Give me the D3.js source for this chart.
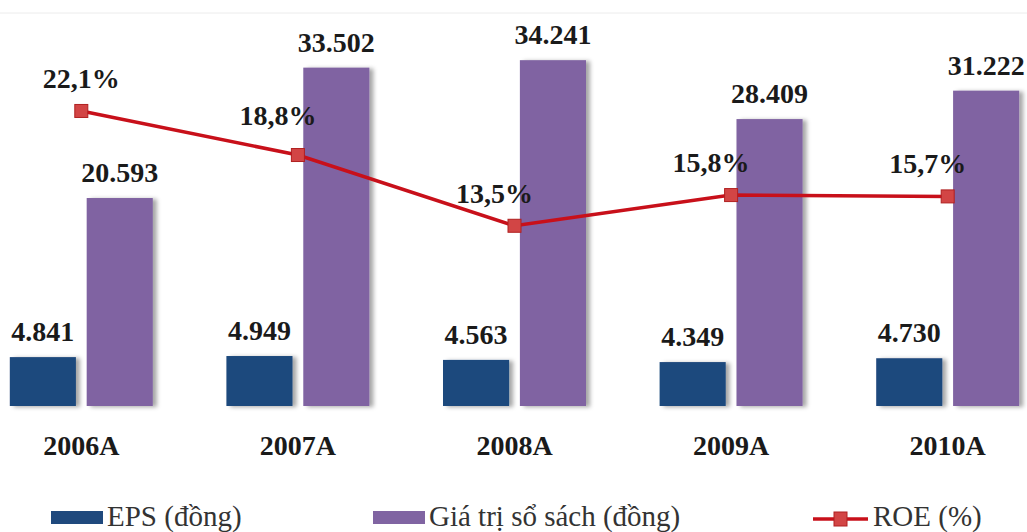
<!DOCTYPE html>
<html>
<head>
<meta charset="utf-8">
<script src="https://cdnjs.cloudflare.com/ajax/libs/d3/7.8.5/d3.min.js"></script>
<style>
    body { margin: 0; background: #fff; }
    text { font-family: "Liberation Serif", "DejaVu Serif", serif; }
</style>
</head>
<body>
<div id="chart"></div>
<script>
// data
const years = ["2006A", "2007A", "2008A", "2009A", "2010A"]
const eps = [4841, 4949, 4563, 4349, 4730]
const bookValue = [20593, 33502, 34241, 28409, 31222]
const roe = [22.1, 18.8, 13.5, 15.8, 15.7]
const seriesNames = ["EPS (đồng)", "Giá trị sổ sách (đồng)", "ROE (%)"]

const fmtNum = d3.formatLocale({ decimal: ",", thousands: ".", grouping: [3], currency: ["", ""] }).format(",")
const fmtPct = d => d.toFixed(1).replace(".", ",") + "%"

const w = 1027
const h = 532
const base = 406
const serif = "Liberation Serif, DejaVu Serif, serif"

const colors = ["#1f497d", "#8064a2", "#c00000"]

const svg = d3.select('#chart')
    .append('svg')
    .attr('width', w)
    .attr('height', h)
    .attr('font-family', serif)

// soft shadow on the bars
const defs = svg.append('defs')
const shadow = defs.append('filter')
    .attr('id', 'shadow')
    .attr('x', '-20%').attr('y', '-10%')
    .attr('width', '150%').attr('height', '130%')
shadow.append('feDropShadow')
    .attr('dx', 4).attr('dy', 1)
    .attr('stdDeviation', 2)
    .attr('flood-color', '#000')
    .attr('flood-opacity', 0.35)

// faint top border
svg.append('line')
    .attr('x1', 0).attr('x2', w)
    .attr('y1', 13).attr('y2', 13)
    .attr('stroke', '#ececec')

// scales
const x0 = d3.scaleBand()
    .domain(years)
    .range([-27, 1056])

const x1 = d3.scaleBand()
    .domain([0, 1])
    .range([-71.5, 71.5])
    .paddingInner(0.14)

const yBar = d3.scaleLinear()
    .domain([0, 40000])
    .range([base, 2])

const yRoe = d3.scaleLinear()
    .domain([0, 30])
    .range([base, base - 400.5])

const center = d => x0(d) + x0.bandwidth() / 2

// bars
const barData = []
years.forEach((y, i) => {
    barData.push({ year: y, s: 0, v: eps[i] })
    barData.push({ year: y, s: 1, v: bookValue[i] })
})

svg.append('g')
    .attr('filter', 'url(#shadow)')
    .selectAll('rect')
    .data(barData)
    .enter()
    .append('rect')
    .attr('x', d => center(d.year) + x1(d.s))
    .attr('y', d => yBar(d.v))
    .attr('width', x1.bandwidth())
    .attr('height', d => base - yBar(d.v))
    .attr('fill', d => colors[d.s])

svg.append('g')
    .selectAll('text')
    .data(barData)
    .enter()
    .append('text')
    .attr('x', d => center(d.year) + x1(d.s) + x1.bandwidth() / 2)
    .attr('y', d => yBar(d.v) - 16)
    .attr('text-anchor', 'middle')
    .attr('font-family', serif)
    .attr('font-size', 28)
    .attr('font-weight', 'bold')
    .attr('fill', '#1a1a1a')
    .text(d => fmtNum(d.v))

// ROE line
const line = d3.line()
    .x((d, i) => center(years[i]))
    .y(d => yRoe(d))

svg.append('path')
    .datum(roe)
    .attr('d', line)
    .attr('fill', 'none')
    .attr('stroke', "#c8101a")
    .attr('stroke-width', 3.5)

svg.append('g')
    .selectAll('rect')
    .data(roe)
    .enter()
    .append('rect')
    .attr('x', (d, i) => center(years[i]) - 6.5)
    .attr('y', d => yRoe(d) - 6.5)
    .attr('width', 13)
    .attr('height', 13)
    .attr('fill', '#d24545')
    .attr('stroke', '#b02020')
    .attr('stroke-width', 1)

svg.append('g')
    .selectAll('text')
    .data(roe)
    .enter()
    .append('text')
    .attr('x', (d, i) => center(years[i]) + (i === 0 ? 0 : -20))
    .attr('y', (d, i) => yRoe(d) - (i === 1 ? 30 : 23))
    .attr('text-anchor', 'middle')
    .attr('font-family', serif)
    .attr('font-size', 28)
    .attr('font-weight', 'bold')
    .attr('fill', '#1a1a1a')
    .text(d => fmtPct(d))

// category labels
const xAxis = d3.axisBottom(x0).tickSize(0).tickPadding(0)
const axisG = svg.append('g')
    .attr('transform', 'translate(0,' + base + ')')
    .call(xAxis)
    .attr('font-family', serif)
axisG.select('.domain').remove()
axisG.selectAll('text')
    .attr('dy', null)
    .attr('y', 49)
    .attr('font-size', 28)
    .attr('font-weight', 'bold')
    .attr('fill', '#1a1a1a')

// legend
const legend = svg.append('g')
const legX = [51, 373, 813]

legend.selectAll('rect.sw')
    .data([0, 1])
    .enter()
    .append('rect')
    .attr('class', 'sw')
    .attr('x', d => legX[d])
    .attr('y', 511)
    .attr('width', 52)
    .attr('height', 13)
    .attr('fill', d => colors[d])

legend.append('line')
    .attr('x1', legX[2]).attr('x2', legX[2] + 55)
    .attr('y1', 519).attr('y2', 519)
    .attr('stroke', "#c8101a")
    .attr('stroke-width', 3.5)
legend.append('rect')
    .attr('x', legX[2] + 21).attr('y', 512)
    .attr('width', 13).attr('height', 14)
    .attr('fill', '#d24545')
    .attr('stroke', '#b02020')

legend.selectAll('text')
    .data(seriesNames)
    .enter()
    .append('text')
    .attr('x', (d, i) => legX[i] + (i === 2 ? 60 : 56))
    .attr('y', 526)
    .attr('font-family', serif)
    .attr('font-size', 29)
    .attr('fill', '#333')
    .text(d => d)
</script>
</body>
</html>
